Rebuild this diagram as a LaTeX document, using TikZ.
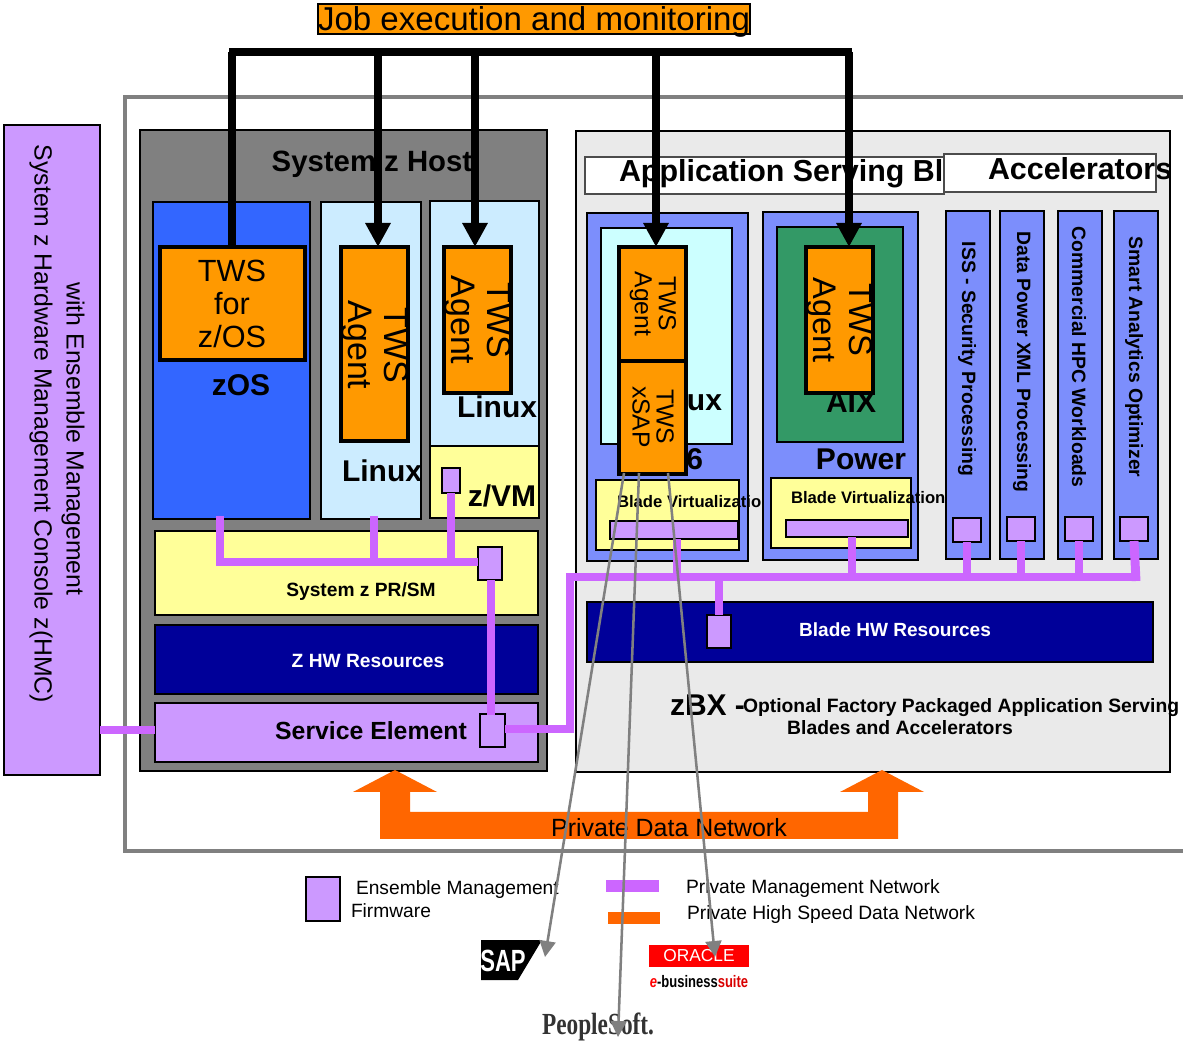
\documentclass[tikz,border=0pt]{standalone}
\usepackage{fontspec}
\setmainfont{Liberation Sans}
\newfontfamily\serifface{Liberation Serif}
\usetikzlibrary{arrows.meta}
\definecolor{ibmorange}{HTML}{FF9900}
\definecolor{netorange}{HTML}{FF6600}
\definecolor{lilac}{HTML}{CC99FF}
\definecolor{mgmt}{HTML}{CC66FF}
\definecolor{paleyellow}{HTML}{FFFF99}
\definecolor{paleblue}{HTML}{CCECFF}
\definecolor{palecyan}{HTML}{CCFFFF}
\definecolor{zosblue}{HTML}{3366FF}
\definecolor{bladeblue}{HTML}{7C8EFC}
\definecolor{navyhw}{HTML}{000099}
\definecolor{aixgreen}{HTML}{339966}
\definecolor{hostgrey}{HTML}{808080}
\definecolor{zbxgrey}{HTML}{EAEAEA}
\tikzset{
  base/.style={inner sep=0pt,outer sep=0pt,anchor=center,draw=black,line width=1.2pt},
  hmcbox/.style={base,fill=lilac},
  hostbox/.style={base,fill=hostgrey},
  zbxbox/.style={base,fill=zbxgrey},
  yellowbox/.style={base,fill=paleyellow},
  lightbox/.style={base,fill=paleblue},
  cyanbox/.style={base,fill=palecyan},
  zosbox/.style={base,fill=zosblue},
  bluebox/.style={base,fill=bladeblue},
  hwbox/.style={base,fill=navyhw},
  greenbox/.style={base,fill=aixgreen},
  titlebox/.style={base,draw=black!70,fill=white,line width=1.2pt},
  twsbox/.style={base,fill=ibmorange,line width=3pt},
  fwbox/.style={base,fill=lilac,line width=1.6pt},
  lbl/.style={inner sep=0pt,outer sep=0pt,align=center},
  vlbl/.style={lbl,rotate=-90},
  mgmtline/.style={draw=mgmt,line width=6.7pt},
  jobline/.style={draw=black,line width=5.6pt},
  jobarrow/.style={jobline,-{Triangle[length=18pt,width=18pt]}},
  greyarrow/.style={draw=hostgrey,line width=1.9pt,-{Triangle[length=12pt,width=12pt]}},
}
\newcommand{\bx}[6]{%
  \pgfmathsetmacro\cxv{(#2+#4)/2}\pgfmathsetmacro\cyv{(#3+#5)/2}%
  \pgfmathsetmacro\bwv{(#4-#2)*.75}\pgfmathsetmacro\bhv{(#5-#3)*.75}%
  \node[#6,minimum width=\bwv pt,minimum height=\bhv pt] (#1) at (\cxv,\cyv) {};}
\begin{document}
\begin{tikzpicture}[x=.75pt,y=-.75pt]
\useasboundingbox (0,0) rectangle (1183,1044);
% outer frame
\bx{outer}{125}{97}{1190}{851}{base,draw=hostgrey,fill=white,line width=3pt}
\bx{hmc}{4}{125}{100}{775}{hmcbox}
\node[vlbl,font=\fontsize{18.6pt}{24pt}\selectfont] (hmctext) at (41,424) {System z Hardware Management Console z(HMC)};
\node[vlbl,font=\fontsize{18.6pt}{24pt}\selectfont] (hmctext2) at (73,439) {with Ensemble Management};
% host
\bx{host}{140}{130}{547}{771}{hostbox}
\node[lbl,font=\bfseries\fontsize{22pt}{26pt}\selectfont] (hostlbl) at (372,164) {System z Host};
\bx{zos}{153}{202}{310}{519}{zosbox}
\bx{lin1}{321}{202}{421}{519}{lightbox}
\bx{lin2}{430}{201}{539}{446}{lightbox}
\bx{zvm}{430}{446}{539}{518}{yellowbox}
\node[lbl,font=\bfseries\fontsize{22.5pt}{26pt}\selectfont] (zoslbl) at (241,385) {zOS};
\node[lbl,font=\bfseries\fontsize{22.5pt}{26pt}\selectfont] (lin1lbl) at (382,471) {Linux};
\node[lbl,font=\bfseries\fontsize{22.5pt}{26pt}\selectfont] (lin2lbl) at (497,407) {Linux};
\node[lbl,font=\bfseries\fontsize{22.5pt}{26pt}\selectfont] (zvmlbl) at (502,496) {z/VM};
\bx{prsm}{155}{531}{538}{615}{yellowbox}
\node[lbl,font=\bfseries\fontsize{14.4pt}{16pt}\selectfont] (prsmlbl) at (361,592) {System z PR/SM};
\bx{zhw}{155}{625}{538}{694}{hwbox}
\node[lbl,text=white,font=\bfseries\fontsize{14.4pt}{16pt}\selectfont] (zhwlbl) at (368,660.5) {Z HW Resources};
\bx{se}{155}{703}{538}{762}{hmcbox}
\node[lbl,font=\bfseries\fontsize{18.6pt}{22pt}\selectfont] (selbl) at (371,731) {Service Element};
% zBX
\bx{zbx}{576}{131}{1170}{772}{zbxbox}
\bx{asbt}{585}{157}{944}{194}{titlebox}
\node[lbl,anchor=west,font=\bfseries\fontsize{22.8pt}{26pt}\selectfont] (asblbl) at (619,174) {Application Serving Bl};
\bx{accel}{944}{154}{1156}{192}{titlebox}
\node[lbl,anchor=west,font=\bfseries\fontsize{22.8pt}{26pt}\selectfont] (accellbl) at (988,168.5) {Accelerators};
% x86 blade
\bx{xblade}{587}{213}{748}{561}{bluebox}
\bx{xlinux}{601}{228}{732}{444}{cyanbox}
\node[lbl,anchor=east,font=\bfseries\fontsize{22.5pt}{26pt}\selectfont] (uxlbl) at (722,403) {ux};
\node[lbl,anchor=east,font=\bfseries\fontsize{22.5pt}{26pt}\selectfont] (sixlbl) at (703,459) {6};
\bx{xvirt}{596}{480}{739}{550}{yellowbox}
\node[lbl,anchor=west,font=\bfseries\fontsize{12.5pt}{15pt}\selectfont] (xvlbl) at (617,502) {Blade Virtualization};
\bx{xbar}{610}{521}{738}{539}{fwbox}
% power blade
\bx{pblade}{763}{212}{918}{560}{bluebox}
\bx{aix}{777}{227}{903}{442}{greenbox}
\node[lbl,font=\bfseries\fontsize{22.5pt}{26pt}\selectfont] (aixlbl) at (851,402) {AIX};
\node[lbl,font=\bfseries\fontsize{22.5pt}{26pt}\selectfont] (powerlbl) at (861,459) {Power};
\bx{pvirt}{771}{478}{911}{548}{yellowbox}
\node[lbl,anchor=west,font=\bfseries\fontsize{12.5pt}{15pt}\selectfont] (pvlbl) at (791,497.5) {Blade Virtualization};
\bx{pbar}{786}{520}{908}{537}{fwbox}
% accelerators
\bx{ac1}{946}{211}{990}{559}{bluebox}
\bx{ac2}{1000}{211}{1044}{559}{bluebox}
\bx{ac3}{1058}{211}{1102}{559}{bluebox}
\bx{ac4}{1114}{211}{1158}{559}{bluebox}
\node[vlbl,font=\bfseries\fontsize{14.5pt}{15pt}\selectfont] (ac1lbl) at (967,359) {ISS - Security Processing};
\node[vlbl,font=\bfseries\fontsize{14.5pt}{15pt}\selectfont] (ac2lbl) at (1022,362) {Data Power XML Processing};
\node[vlbl,font=\bfseries\fontsize{14.5pt}{15pt}\selectfont] (ac3lbl) at (1079,357) {Commercial HPC Workloads};
\node[vlbl,font=\bfseries\fontsize{14.5pt}{15pt}\selectfont] (ac4lbl) at (1134,357) {Smart Analytics Optimizer};
% blade hw
\bx{bhw}{587}{602}{1153}{662}{hwbox}
\node[lbl,text=white,font=\bfseries\fontsize{14.3pt}{16pt}\selectfont] (bhwlbl) at (895,630) {Blade HW Resources};
\node[lbl,anchor=west,font=\bfseries\fontsize{22.5pt}{26pt}\selectfont] (zbxlbl) at (670,705) {zBX -};
\node[lbl,anchor=west,font=\bfseries\fontsize{14.5pt}{17pt}\selectfont] (zbxopt) at (743,708) {Optional Factory Packaged Application Serving};
\node[lbl,font=\bfseries\fontsize{14.5pt}{17pt}\selectfont] (zbxopt2) at (900,728) {Blades and Accelerators};
% management network
\coordinate (busL) at (570,577);
\coordinate (busR) at (1140,577);
\coordinate (seJ) at (570,729);
\coordinate (hA) at (220,562);
\coordinate (hB) at (374,562);
\coordinate (hC) at (451,562);
\coordinate (zosT) at (220,516);
\coordinate (linT) at (374,516);
\bx{fwzvm}{442}{468}{460}{493}{fwbox}
\bx{fwpr}{478}{547}{502}{580}{fwbox}
\bx{fwse}{480}{714}{505}{747}{fwbox}
\bx{fwbhw}{707}{615}{731}{648}{fwbox}
\bx{fwa1}{953}{518}{981}{542}{fwbox}
\bx{fwa2}{1007}{517}{1035}{541}{fwbox}
\bx{fwa3}{1065}{517}{1093}{541}{fwbox}
\bx{fwa4}{1120}{517}{1148}{541}{fwbox}
\draw[mgmtline] (zosT) -- (hA);
\draw[mgmtline] (216,562) -- (fwpr.west |- hA);
\draw[mgmtline] (linT) -- (hB);
\draw[mgmtline] (fwzvm.south) -- (hC);
\draw[mgmtline] (491,580) -- (491,715);
\draw[mgmtline] (fwse.east |- seJ) -- (seJ) -- (busL);
\draw[mgmtline] (566,577) -- (busR);
\draw[mgmtline] (hmc.east |- 0,730) -- (se.west |- 0,730);
\draw[mgmtline] (677,539) -- (677,577);
\draw[mgmtline] (852,537) -- (852,577);
\draw[mgmtline] (719,577) -- (fwbhw.north);
\draw[mgmtline] (fwa1.south) -- (fwa1.south |- busL);
\draw[mgmtline] (fwa2.south) -- (fwa2.south |- busL);
\draw[mgmtline] (fwa3.south) -- (fwa3.south |- busL);
\draw[mgmtline] (fwa4.south) -- (1136,581);
% private data network
\path[fill=netorange,draw=none] (380,839) -- (380,792) -- (353,792) -- (395,770) -- (437,792) -- (410,792) -- (410,812) -- (868,812) -- (868,792) -- (840,792) -- (882,770) -- (924,792) -- (898,792) -- (898,839) -- cycle;
\node[lbl,font=\fontsize{18.7pt}{22pt}\selectfont] (pdnlbl) at (669,828) {Private Data Network};
% TWS boxes
\bx{twszos}{160}{247}{305}{360}{twsbox}
\node[lbl,font=\fontsize{23pt}{24.8pt}\selectfont] (twszoslbl) at (232,304) {TWS\\for\\z/OS};
\bx{twsa}{341}{247}{408}{441}{twsbox}
\node[vlbl,font=\fontsize{25.5pt}{27pt}\selectfont] (twsalbl) at (375,345) {TWS\\Agent};
\bx{twsb}{444}{247}{511}{393}{twsbox}
\node[vlbl,font=\fontsize{25.5pt}{27pt}\selectfont] (twsblbl) at (478,320) {TWS\\Agent};
\bx{twsc}{619}{247}{686}{361}{twsbox}
\node[vlbl,font=\fontsize{18.5pt}{18pt}\selectfont] (twsclbl) at (653,304) {TWS\\Agent};
\bx{twsd}{619}{361}{686}{474}{twsbox}
\node[vlbl,font=\fontsize{18.5pt}{18pt}\selectfont] (twsdlbl) at (653,417) {TWS\\xSAP};
\bx{twse}{806}{247}{873}{393}{twsbox}
\node[vlbl,font=\fontsize{24.5pt}{27pt}\selectfont] (twselbl) at (840,320) {TWS\\Agent};
% job execution
\bx{job}{318}{4}{750}{34}{base,fill=ibmorange}
\node[lbl,font=\fontsize{24.8pt}{26pt}\selectfont] (joblbl) at (534,22) {Job execution and monitoring};
\coordinate (j1) at (232,52);
\coordinate (j2) at (378,52);
\coordinate (j3) at (475,52);
\coordinate (j4) at (656,52);
\coordinate (j5) at (849,52);
\draw[jobline] ([xshift=-2pt]j1) -- ([xshift=2pt]j5);
\draw[jobline] (j1) -- (j1 |- twszos.north);
\draw[jobarrow] (j2) -- (j2 |- twsa.north);
\draw[jobarrow] (j3) -- (j3 |- twsb.north);
\draw[jobarrow] (j4) -- (j4 |- twsc.north);
\draw[jobarrow] (j5) -- (j5 |- twse.north);
% legend
\bx{legfw}{306}{877}{340}{921}{fwbox}
\node[lbl,anchor=west,font=\fontsize{14.4pt}{16pt}\selectfont] (leg1) at (356,890) {Ensemble Management};
\node[lbl,anchor=west,font=\fontsize{14.4pt}{16pt}\selectfont] (leg2) at (351,911) {Firmware};
\coordinate (lm1) at (606,886);
\coordinate (lm2) at (659,886);
\coordinate (lo1) at (608,918);
\coordinate (lo2) at (660,918);
\draw[draw=mgmt,line width=8.5pt] (lm1) -- (lm2);
\draw[draw=netorange,line width=8.5pt] (lo1) -- (lo2);
\node[lbl,anchor=west,font=\fontsize{14.45pt}{16pt}\selectfont] (leg3) at (686,889) {Private Management Network};
\node[lbl,anchor=west,font=\fontsize{14.45pt}{16pt}\selectfont] (leg4) at (687,915) {Private High Speed Data Network};
% logos
\path[fill=black] (481,940) -- (542,940) -- (518,980) -- (481,980) -- cycle;
\node[lbl,text=white,font=\bfseries\fontsize{23pt}{24pt}\selectfont] (sap) at (503,961) {\scalebox{.72}[1]{SAP}};
\bx{oraclered}{649}{945}{749}{967}{base,draw=none,fill=red}
\node[lbl,text=white,font=\fontsize{13pt}{15pt}\selectfont] (oracle) at (699,956) {ORACLE};
\node[lbl,font=\bfseries\fontsize{12.5pt}{15pt}\selectfont] (ebs) at (699,982) {\scalebox{.78}[1]{\textcolor{red}{\textit{e}}-business\textcolor{red!85!black}{suite}}};
\node[lbl,text=black!80,font=\serifface\bfseries\fontsize{23pt}{25pt}\selectfont] (ps) at (598,1027) {\scalebox{.76}[1]{PeopleSoft.}};
% application links
\coordinate (s1) at (624,473);
\coordinate (s2) at (639,473);
\coordinate (s3) at (668,473);
\coordinate (sapT) at (545,957);
\coordinate (psT) at (618,1037);
\coordinate (oraT) at (715,957);
\draw[greyarrow] (s1) -- (sapT);
\draw[greyarrow] (s2) -- (psT);
\draw[greyarrow] (s3) -- (oraT);
\end{tikzpicture}
\end{document}
